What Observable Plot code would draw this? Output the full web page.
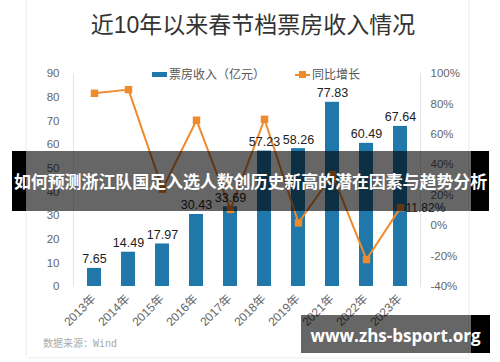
<!DOCTYPE html>
<html><head><meta charset="utf-8">
<script src="https://cdn.jsdelivr.net/npm/d3@7"></script>
<script src="https://cdn.jsdelivr.net/npm/@observablehq/plot@0.6"></script>
<style>
html,body{margin:0;padding:0;background:#fff;}
#wrap{position:relative;width:500px;height:362px;overflow:hidden;font-family:"Liberation Sans","Noto Sans CJK SC",sans-serif;}
#card{position:absolute;left:27px;top:-4px;width:441px;height:361px;background:#fff;box-shadow:0 0 3px rgba(0,0,0,0.14);}
#chart{position:absolute;left:0;top:0;}
#title{position:absolute;left:3px;width:500px;top:13px;text-align:center;font-size:23px;line-height:24px;color:#333;font-family:"Liberation Sans","Noto Sans CJK SC",sans-serif;white-space:nowrap;}
.leg{position:absolute;font-size:12px;line-height:14px;color:#555;white-space:nowrap;font-family:"Noto Sans CJK SC",sans-serif;}
#source{position:absolute;left:43px;top:337px;font-size:10px;line-height:13px;color:#aaa;font-family:"DejaVu Sans Mono","Noto Sans CJK SC",monospace;white-space:nowrap;}
.blk{position:absolute;background:#000;}
.shade{position:absolute;background:rgba(0,0,0,0.6);}
#bannerText{position:absolute;left:0;width:501px;top:171px;text-align:center;font-size:17px;line-height:20px;font-weight:bold;color:#fff;font-family:"Noto Sans CJK SC",sans-serif;white-space:nowrap;letter-spacing:-0.1px;}
#wmText{position:absolute;left:301px;width:189px;top:325px;text-align:center;font-size:17px;line-height:22px;font-weight:bold;color:#fff;font-family:"Open Sans","DejaVu Sans",sans-serif;white-space:nowrap;}
</style></head>
<body>
<div id="wrap">
  <div id="card"></div>
  <div id="chart"></div>
  <div id="title">近10年以来春节档票房收入情况</div>
  <div class="leg" style="left:152px;top:72px;width:15px;height:5px;background:#1f77aa;"></div>
  <div class="leg" style="left:169px;top:67px;">票房收入（亿元）</div>
  <div class="leg" style="left:295px;top:73.5px;width:15px;height:2px;background:#ef8b2c;"></div>
  <div class="leg" style="left:299px;top:71px;width:7px;height:7px;background:#ef8b2c;"></div>
  <div class="leg" style="left:312px;top:67px;">同比增长</div>
  <div id="source">数据来源：Wind</div>
  <div class="blk" style="left:12px;top:151px;width:14px;height:60px;"></div>
  <div class="shade" style="left:26px;top:151px;width:445px;height:60px;"></div>
  <div class="blk" style="left:471px;top:151px;width:18px;height:60px;"></div>
  <div id="bannerText">如何预测浙江队国足入选人数创历史新高的潜在因素与趋势分析</div>
  <div class="shade" style="left:301px;top:315px;width:170px;height:38px;"></div>
  <div class="blk" style="left:471px;top:315px;width:19px;height:38px;"></div>
  <div id="wmText">www.zhs-bsport.org</div>
</div>
<script>
const years = ["2013年","2014年","2015年","2016年","2017年","2018年","2019年","2021年","2022年","2023年"];
const revenue = [7.65,14.49,17.97,30.43,33.69,57.23,58.26,77.83,60.49,67.64];
const growth = [87.0,89.4,24.0,69.3,10.7,69.9,1.8,33.6,-22.3,11.82];
const leftTicks = [0,10,20,30,40,50,60,70,80,90];
const rightTicks = [-40,-20,0,20,40,60,80,100];

const toLeft = p => (p + 40) * 90 / 140;
const fromLeft = v => v * 140 / 90 - 40;
const rows = years.map((y, i) => ({year: y, revenue: revenue[i], growth: growth[i], gy: toLeft(growth[i])}));

const chart = Plot.plot({
  width: 500, height: 362,
  marginTop: 73, marginBottom: 76, marginLeft: 73, marginRight: 80,
  style: {background: "transparent", fontFamily: "'Liberation Sans','Noto Sans CJK SC',sans-serif", fontSize: "11.5px", color: "#666", overflow: "visible"},
  x: {type: "band", domain: years, paddingInner: 0.6, paddingOuter: 0.3, axis: null},
  y: {domain: [0, 90], axis: null},
  marks: [
    Plot.frame({anchor: "left", stroke: "#e4e4e4"}),
    Plot.frame({anchor: "right", stroke: "#e4e4e4"}),
    Plot.axisY(leftTicks, {anchor: "left", tickSize: 0, tickPadding: 14, fill: "#666"}),
    Plot.axisY(rightTicks.map(toLeft), {anchor: "right", tickSize: 0, tickPadding: 10, tickFormat: v => Math.round(fromLeft(v)) + "%", fill: "#666"}),
    Plot.barY(rows, {x: "year", y: "revenue", fill: "#1f77aa"}),
    Plot.lineY(rows, {x: "year", y: "gy", stroke: "#ef8b2c", strokeWidth: 2}),
    Plot.dot(rows, {x: "year", y: "gy", symbol: "square", r: 4.2, fill: "#ef8b2c", stroke: null}),
    Plot.text(rows, {x: "year", y: "revenue", text: d => d.revenue.toFixed(2), dy: -5, lineAnchor: "bottom", fontSize: 12.5, fill: "#222"}),
    Plot.text(rows.filter(d => d.year === "2023年"), {x: "year", y: "gy", text: d => d.growth.toFixed(2) + "%", textAnchor: "start", dx: 5, fontSize: 12, fill: "#333"}),
    Plot.text(years, {x: d => d, frameAnchor: "bottom", rotate: -45, textAnchor: "end", dx: 2, dy: 13, fontSize: 12, fill: "#666"})
  ]
});
document.getElementById("chart").appendChild(chart);
</script>
</body></html>
